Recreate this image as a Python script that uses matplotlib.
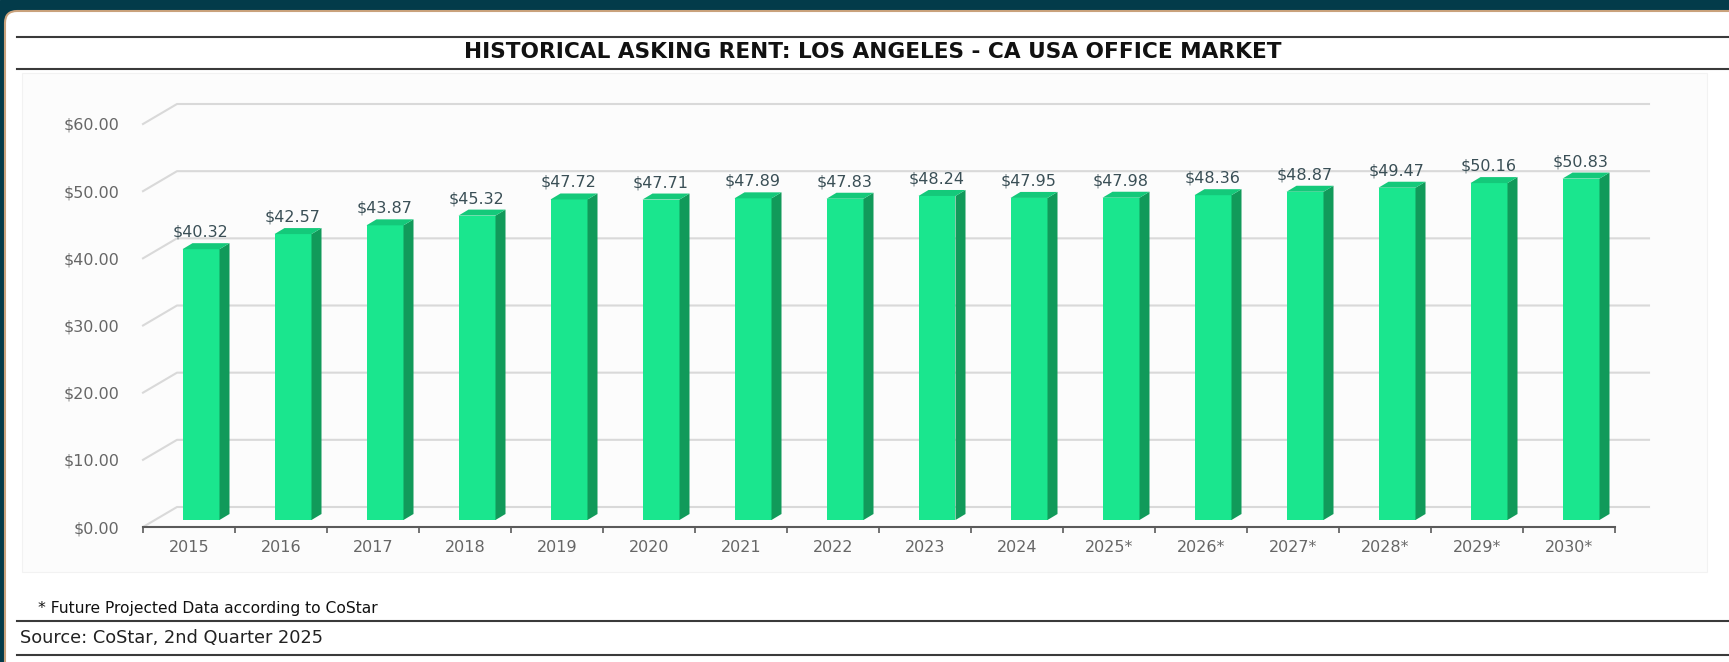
import matplotlib.pyplot as plt
from matplotlib.patches import Polygon, FancyBboxPatch, Rectangle
from matplotlib.lines import Line2D
import numpy as np

years = ['2015', '2016', '2017', '2018', '2019', '2020', '2021', '2022', '2023', '2024',
         '2025*', '2026*', '2027*', '2028*', '2029*', '2030*']
rent = [40.32, 42.57, 43.87, 45.32, 47.72, 47.71, 47.89, 47.83, 48.24, 47.95,
        47.98, 48.36, 48.87, 49.47, 50.16, 50.83]
yticks = [0, 10, 20, 30, 40, 50, 60]

title = 'HISTORICAL ASKING RENT: LOS ANGELES - CA USA OFFICE MARKET'
footnote = '* Future Projected Data according to CoStar'
source = 'Source: CoStar, 2nd Quarter 2025'

W, H = 1729, 662
fig = plt.figure(figsize=(W / 100, H / 100), dpi=100)
fig.patch.set_facecolor('white')

# frame: dark band + panel with tan edge
bg = fig.add_axes([0, 0, 1, 1])
bg.set_xlim(0, W)
bg.set_ylim(H, 0)
bg.axis('off')
bg.add_patch(Rectangle((0, 0), W, H, color='#033b4a', zorder=0))
bg.add_patch(FancyBboxPatch((5, 11), W + 40, H + 40, boxstyle='round,pad=0,rounding_size=12',
                            facecolor='white', edgecolor='#c9a27c', lw=1.5, zorder=1))
bg.add_patch(Rectangle((22, 73), 1685, 499, facecolor='#fcfcfc', edgecolor='#f2f2f2', lw=0.8, zorder=1))
for yy in [37, 69, 621, 655]:
    bg.add_line(Line2D([17, W], [yy, yy], color='#3a3a3a', lw=1.5, zorder=2))
bg.text(873, 52, title, ha='center', va='center', fontsize=15.6, fontweight='bold',
        family='DejaVu Sans', color='#111111', zorder=3)
bg.text(38, 608, footnote, ha='left', va='center', fontsize=11.2,
        family='DejaVu Sans', color='#111111', zorder=3)
bg.text(20, 638, source, ha='left', va='center', fontsize=12.8,
        family='DejaVu Sans', color='#222222', zorder=3)

# chart axes (front plane)
x0, x1, yb, yt = 143, 1615, 527, 124
ax = fig.add_axes([x0 / W, 1 - yb / H, (x1 - x0) / W, (yb - yt) / H])
ax.set_xlim(-0.5, len(years) - 0.5)
ax.set_ylim(0, 60)
ax.patch.set_alpha(0)
for s in ax.spines.values():
    s.set_visible(False)

ux = (x1 - x0) / len(years)
uy = (yb - yt) / 60.0

# back wall offset, bar offset and bar depth in data units
dx, dy = 34 / ux, 20 / uy
bx, by = 12 / ux, 7 / uy
sx, sy = 10 / ux, 6 / uy
bw = 37 / ux

for t in yticks:
    ax.plot([-0.5, -0.5 + dx, len(years) - 0.5 + dx], [t, t + dy, t + dy],
            color='#d9d9d9', lw=1.5, zorder=1, clip_on=False)

ax.plot([-0.5, len(years) - 0.5], [0, 0], color='#5a5a5a', lw=1.5, zorder=5, clip_on=False)
ax.set_xticks(np.arange(-0.5, len(years), 1.0))
ax.set_xticklabels([])
ax.tick_params(axis='x', length=4, width=1.2, color='#5a5a5a', direction='out')
ax.set_yticks(yticks)
ax.set_yticklabels(['$%.2f' % t for t in yticks])
ax.tick_params(axis='y', length=0, pad=17, labelsize=11.5, labelcolor='#666666')

for i, (lab, v) in enumerate(zip(years, rent)):
    ax.text(i, -21 / uy, lab, ha='center', va='center', fontsize=11.5, color='#666666')
    l = i - bw / 2 + bx
    r = i + bw / 2 + bx
    b = by
    t = by + v
    ax.add_patch(Polygon([(l, b), (r, b), (r, t), (l, t)], closed=True,
                         facecolor='#1ae68e', edgecolor='none', zorder=4, clip_on=False))
    ax.add_patch(Polygon([(r, b), (r + sx, b + sy), (r + sx, t + sy), (r, t)], closed=True,
                         facecolor='#119a5a', edgecolor='none', zorder=4, clip_on=False))
    ax.add_patch(Polygon([(l, t), (r, t), (r + sx, t + sy), (l + sx, t + sy)], closed=True,
                         facecolor='#14c97a', edgecolor='none', zorder=4, clip_on=False))
    ax.text(i + bx, t + 17 / uy, '$%.2f' % v, ha='center', va='center', fontsize=11.5,
            color='#3a4f56', zorder=6)

fig.savefig('out.png', dpi=100)
